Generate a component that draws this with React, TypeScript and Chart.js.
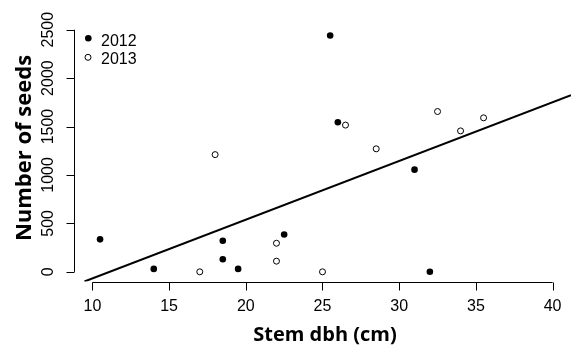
import React, { useEffect, useRef } from "react";
import { Chart, registerables } from "chart.js";

Chart.register(...registerables);

// Data (Stem dbh in cm, number of seeds)
const dbh2012 = [10.5, 14, 18.5, 18.5, 19.5, 22.5, 25.5, 26, 31, 32];
const seeds2012 = [335, 30, 320, 130, 30, 385, 2440, 1545, 1055, 0];
const dbh2013 = [17, 18, 22, 22, 25, 26.5, 28.5, 32.5, 34, 35.5];
const seeds2013 = [0, 1210, 295, 110, 0, 1515, 1270, 1655, 1455, 1590];
// Regression line endpoints
const fitX = [9.48, 41.2];
const fitY = [-100, 1823];
// Axes
const xTicks = [10, 15, 20, 25, 30, 35, 40];
const yTicks = [0, 500, 1000, 1500, 2000, 2500];
const xRange = [8.8, 41.2];
const yRange = [-100, 2600];
const legendLabels = ["2012", "2013"];
const xTitle = "Stem dbh (cm)";
const yTitle = "Number of seeds";

const TICK_FONT = "16px 'Liberation Sans', Arial, sans-serif";
const X_TITLE_FONT = "bold 20px 'Open Sans', Lato, sans-serif";
const Y_TITLE_FONT = "bold 22px 'Open Sans', Lato, sans-serif";

const rAxesPlugin = {
  id: "rAxes",
  afterDraw(chart: any) {
    const ctx = chart.ctx as CanvasRenderingContext2D;
    const xs = chart.scales.x;
    const ys = chart.scales.y;
    const area = chart.chartArea;
    ctx.save();
    ctx.strokeStyle = "#000";
    ctx.fillStyle = "#000";
    ctx.lineWidth = 1;

    // x axis
    const yAxis = Math.round(area.bottom) + 0.5;
    const x0 = xs.getPixelForValue(xTicks[0]);
    const x1 = xs.getPixelForValue(xTicks[xTicks.length - 1]);
    ctx.beginPath();
    ctx.moveTo(x0, yAxis);
    ctx.lineTo(x1, yAxis);
    xTicks.forEach((t) => {
      const px = Math.round(xs.getPixelForValue(t)) + 0.5;
      ctx.moveTo(px, yAxis);
      ctx.lineTo(px, yAxis + 8);
    });
    ctx.stroke();
    ctx.font = TICK_FONT;
    ctx.textAlign = "center";
    ctx.textBaseline = "alphabetic";
    xTicks.forEach((t) => {
      ctx.fillText(String(t), xs.getPixelForValue(t), 311);
    });

    // y axis
    const xAxis = Math.round(area.left) + 0.5;
    const yb = ys.getPixelForValue(yTicks[0]);
    const yt = ys.getPixelForValue(yTicks[yTicks.length - 1]);
    ctx.beginPath();
    ctx.moveTo(xAxis, yb);
    ctx.lineTo(xAxis, yt);
    yTicks.forEach((t) => {
      const py = Math.round(ys.getPixelForValue(t)) + 0.5;
      ctx.moveTo(xAxis, py);
      ctx.lineTo(xAxis - 8, py);
    });
    ctx.stroke();
    yTicks.forEach((t) => {
      ctx.save();
      ctx.translate(53, ys.getPixelForValue(t));
      ctx.rotate(-Math.PI / 2);
      ctx.textAlign = "center";
      ctx.textBaseline = "alphabetic";
      ctx.fillText(String(t), 0, 0);
      ctx.restore();
    });

    // titles
    ctx.font = X_TITLE_FONT;
    ctx.textAlign = "center";
    ctx.textBaseline = "alphabetic";
    ctx.fillText(xTitle, 325, 341);
    ctx.font = Y_TITLE_FONT;
    ctx.save();
    ctx.translate(31, 148);
    ctx.rotate(-Math.PI / 2);
    ctx.fillText(yTitle, 0, 0);
    ctx.restore();

    // legend
    ctx.font = TICK_FONT;
    ctx.textAlign = "left";
    ctx.beginPath();
    ctx.arc(88.3, 38.3, 3.3, 0, Math.PI * 2);
    ctx.fill();
    ctx.beginPath();
    ctx.arc(88, 57.3, 3, 0, Math.PI * 2);
    ctx.fillStyle = "#fff";
    ctx.fill();
    ctx.stroke();
    ctx.fillStyle = "#000";
    ctx.fillText(legendLabels[0], 101, 45.5);
    ctx.fillText(legendLabels[1], 101, 64.2);
    ctx.restore();
  },
};

export default function App() {
  const ref = useRef<HTMLCanvasElement | null>(null);
  useEffect(() => {
    document.body.style.margin = "0";
    const canvas = ref.current!;
    const chart = new Chart(canvas, {
      type: "scatter",
      data: {
        datasets: [
          {
            label: legendLabels[0],
            data: dbh2012.map((x, i) => ({ x, y: seeds2012[i] })),
            pointRadius: 3.3,
            pointBackgroundColor: "#000",
            pointBorderColor: "#000",
            pointBorderWidth: 0,
            order: 2,
          },
          {
            label: legendLabels[1],
            data: dbh2013.map((x, i) => ({ x, y: seeds2013[i] })),
            pointRadius: 3,
            pointBackgroundColor: "#fff",
            pointBorderColor: "#000",
            pointBorderWidth: 1,
            order: 3,
          },
          {
            type: "line",
            label: "fit",
            data: fitX.map((x, i) => ({ x, y: fitY[i] })),
            borderColor: "#000",
            borderWidth: 2,
            pointRadius: 0,
            showLine: true,
            fill: false,
            order: 1,
          } as any,
        ],
      },
      options: {
        responsive: false,
        animation: false,
        devicePixelRatio: 1,
        layout: { padding: { left: 74, right: 7, top: 20, bottom: 65.5 } },
        plugins: { legend: { display: false }, tooltip: { enabled: false } },
        scales: {
          x: { type: "linear", min: xRange[0], max: xRange[1], display: false },
          y: { type: "linear", min: yRange[0], max: yRange[1], display: false },
        },
      },
      plugins: [rAxesPlugin],
    });
    return () => chart.destroy();
  }, []);
  return (
    <div style={{ position: "absolute", left: 0, top: 0, width: 578, height: 347, background: "#fff" }}>
      <canvas ref={ref} width={578} height={347} />
    </div>
  );
}
